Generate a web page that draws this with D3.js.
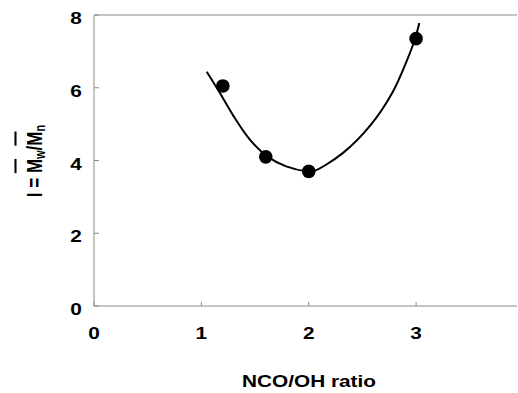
<!DOCTYPE html>
<html>
<head>
<meta charset="utf-8">
<script src="https://cdn.jsdelivr.net/npm/d3@7"></script>
<style>
  body { margin: 0; background: #fff; }
  svg { display: block; font-family: "Liberation Sans", Arial, sans-serif; }
</style>
</head>
<body>
<svg id="chart" width="518" height="393"></svg>
<script>
// measured points
var ratioX = [1.2, 1.6, 2.0, 3.0];
var indexY = [6.05, 4.1, 3.7, 7.35];

// fitted curve
var fitX = [1.05, 1.17, 1.30, 1.45, 1.61, 1.79, 1.99, 2.04, 2.32, 2.57, 2.78, 2.92, 2.99, 3.03];
var fitY = [6.44, 5.87, 5.22, 4.58, 4.12, 3.84, 3.70, 3.70, 4.21, 4.95, 5.87, 6.79, 7.34, 7.78];

var xTicks = [0, 1, 2, 3];
var yTicks = [0, 2, 4, 6, 8];

var svg = d3.select("#chart");
var sx = 1.3; // scanned text looks stretched sideways

var x = d3.scaleLinear().domain([0, 3.94]).range([94, 517]);
var y = d3.scaleLinear().domain([0, 8]).range([306, 15]);

var axisCol = "#8a8a8a";

// frame: left, bottom, top
svg.append("line").attr("x1", x(0)).attr("x2", x(0)).attr("y1", y(0)).attr("y2", y(8))
    .attr("stroke", axisCol).attr("stroke-width", 1);
svg.append("line").attr("x1", x(0)).attr("x2", x(3.94)).attr("y1", y(0)).attr("y2", y(0))
    .attr("stroke", axisCol).attr("stroke-width", 1);
svg.append("line").attr("x1", x(0)).attr("x2", x(3.94)).attr("y1", y(8)).attr("y2", y(8))
    .attr("stroke", axisCol).attr("stroke-width", 1);

// ticks, pointing inward
svg.selectAll(".yt").data(yTicks).enter().append("line")
    .attr("x1", x(0)).attr("x2", x(0) + 5)
    .attr("y1", d => y(d)).attr("y2", d => y(d))
    .attr("stroke", axisCol);
svg.selectAll(".xt").data(xTicks).enter().append("line")
    .attr("x1", d => x(d)).attr("x2", d => x(d))
    .attr("y1", y(0)).attr("y2", y(0) - 4)
    .attr("stroke", axisCol);

// tick labels
svg.selectAll(".yl").data(yTicks).enter().append("text")
    .attr("transform", d => "translate(76," + (y(d) + 9) + ") scale(" + sx + ",1)")
    .attr("text-anchor", "middle")
    .attr("font-size", 16)
    .attr("font-weight", "bold")
    .text(d => d);
svg.selectAll(".xl").data(xTicks).enter().append("text")
    .attr("transform", d => "translate(" + x(d) + ",339) scale(" + sx + ",1)")
    .attr("text-anchor", "middle")
    .attr("font-size", 16)
    .attr("font-weight", "bold")
    .text(d => d);

// x title
svg.append("text")
    .attr("transform", "translate(309,387) scale(" + sx + ",1)")
    .attr("text-anchor", "middle")
    .attr("font-size", 16)
    .attr("font-weight", "bold")
    .text("NCO/OH ratio");

// y title: I = Mw/Mn with overbars
var yt = svg.append("g")
    .attr("transform", "translate(41.5,161) scale(" + sx + ",1) rotate(-90)");
var yTxt = yt.append("text")
    .attr("text-anchor", "middle")
    .attr("font-size", 17)
    .attr("font-weight", "bold");
yTxt.append("tspan").text("I = M");
yTxt.append("tspan").attr("font-size", 11).attr("dy", 3).text("w");
yTxt.append("tspan").attr("dy", -3).text("/M");
yTxt.append("tspan").attr("font-size", 11).attr("dy", 3).text("n");

var node = yTxt.node();
[4, 7].forEach(function (i) {
    var a = node.getStartPositionOfChar(i);
    var b = node.getEndPositionOfChar(i);
    yt.append("line")
        .attr("x1", a.x).attr("x2", b.x)
        .attr("y1", -20).attr("y2", -20)
        .attr("stroke", "#000").attr("stroke-width", 1.6);
});

// fit curve
var fit = fitX.map((d, i) => [d, fitY[i]]);
svg.append("path")
    .attr("d", d3.line().x(d => x(d[0])).y(d => y(d[1])).curve(d3.curveCatmullRom)(fit))
    .attr("fill", "none")
    .attr("stroke", "#000")
    .attr("stroke-width", 2);

// points
svg.selectAll(".pt").data(ratioX).enter().append("circle")
    .attr("cx", d => x(d))
    .attr("cy", (d, i) => y(indexY[i]))
    .attr("r", 6.8)
    .attr("fill", "#000");
</script>
</body>
</html>
